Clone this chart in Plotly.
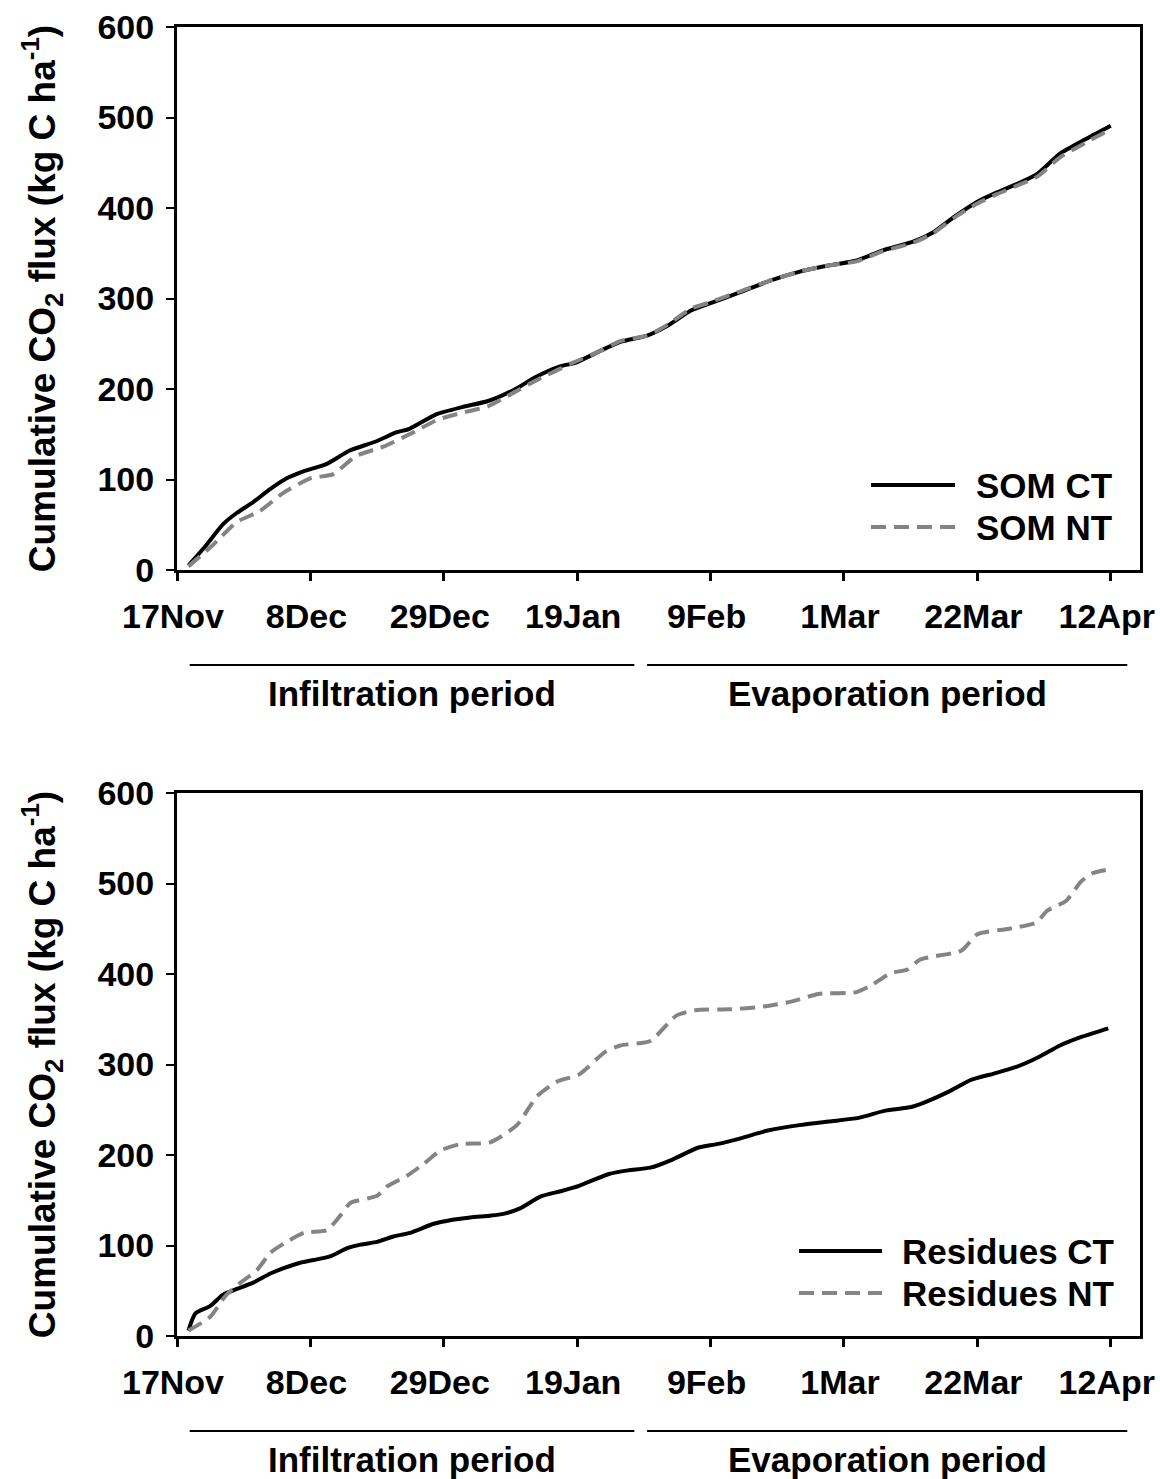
import plotly.graph_objects as go

W, H = 1160, 1479
FONT = "Liberation Sans, Arial, sans-serif"

# ---- axes -------------------------------------------------------------
# x values are days after 17 November
tick_days = [0, 21, 42, 63, 84, 105, 126, 147]
tick_labels = ["17Nov", "8Dec", "29Dec", "19Jan", "9Feb", "1Mar", "22Mar", "12Apr"]
y_ticks = [0, 100, 200, 300, 400, 500, 600]

# ---- SOM-derived cumulative flux (kg C/ha) -----------------------------
som_ct_day = [1.8, 4.2, 7.3, 9.4, 12, 14.6, 17.2, 19.9, 23.5, 27.2, 31.3, 34.5, 36.6,
              40.8, 44.9, 49.1, 53.3, 56.4, 60.3, 62.7, 66.3, 69.8, 74, 77, 81, 84,
              88.7, 93.5, 98.2, 103, 107, 111, 116, 119, 122.5, 126, 129, 133, 135.5,
              139, 143, 147]
som_ct = [5, 24, 51, 63, 75, 89, 101, 109, 117, 132, 142, 152, 156,
          172, 180, 187, 200, 213, 225, 229, 241, 252, 259, 269, 287, 295,
          307, 320, 330, 337, 342, 353, 363, 373, 391, 407, 417, 429, 438,
          460, 476, 491]

som_nt_day = [1.8, 5.7, 9.4, 13, 16.7, 20.9, 24.6, 28.2, 32.4, 36.6, 41, 45, 49, 53,
              56.4, 62, 66.3, 69.8, 74, 77, 81, 84, 88.7, 93.5, 98.2, 103, 107, 111,
              116, 119, 122.5, 126, 129, 133, 135.5, 139, 143, 147]
som_nt = [4, 28, 53, 65, 85, 101, 106, 126, 136, 150, 166, 174, 181, 196,
          209, 228, 241, 253, 259, 270, 289, 296, 308, 320, 330, 337, 341, 352,
          362, 372, 390, 405, 415, 427, 435, 456, 472, 487]

# ---- residue-derived cumulative flux (kg C/ha) -------------------------
res_ct_day = [1.8, 2.9, 5.2, 7.3, 9.4, 12, 14.7, 16.8, 19.4, 21.5, 24.1, 26.8, 28.9,
              31.5, 34.1, 36.7, 40.4, 43, 46.2, 49.3, 51.4, 54, 57.2, 60.4, 63.3, 68,
              71, 74.5, 78, 82, 85, 89, 93, 98, 102.6, 107.3, 111.5, 115.6, 118,
              121.5, 125, 128.6, 132, 135.6, 139, 142.6, 146.6]
res_ct = [6, 25, 33, 46, 52, 59, 69, 75, 81, 84, 88, 97, 101,
          104, 110, 114, 124, 128, 131, 133, 135, 141, 154, 160, 166, 179,
          183, 186, 195, 208, 212, 219, 227, 233, 237, 241, 249, 253, 259,
          270, 283, 290, 297, 308, 321, 331, 340]

res_nt_day = [1.8, 5.2, 7.6, 10, 12.6, 14.7, 16.8, 20, 23.6, 25.7, 27.3, 31.5, 33,
              36.2, 38.8, 41.5, 44.6, 49.3, 53.5, 56.7, 59.8, 63.3, 67.4, 69.8, 74.5,
              78.6, 81.6, 87, 92.3, 97, 101, 107, 109.4, 112.4, 115, 117, 123.5, 126,
              131, 135.3, 137, 140, 142.3, 144, 147]
res_nt = [6, 21, 44, 59, 73, 92, 102, 114, 117, 133, 147, 155, 165,
          177, 190, 205, 212, 214, 233, 265, 281, 289, 314, 321, 326,
          354, 360, 361, 364, 370, 378, 380, 388, 401, 405, 416, 426, 444,
          450, 457, 470, 481, 502, 511, 516]

# ---- study periods (days) ---------------------------------------------
period_names = ["Infiltration period", "Evaporation period"]
period_start = [2.0, 74.0]
period_end = [72.0, 149.6]

panels = [
    dict(names=["SOM CT", "SOM NT"],
         series=[(som_ct_day, som_ct), (som_nt_day, som_nt)]),
    dict(names=["Residues CT", "Residues NT"],
         series=[(res_ct_day, res_ct), (res_nt_day, res_nt)]),
]
line_styles = [dict(color="black", width=4, dash="solid"),
               dict(color="#848484", width=4, dash="15px,8px")]


def fx(p):
    return p / W


def fy(p):
    return 1 - p / H


# pixel frame of each panel: (top, bottom)
frames = [(27, 570), (793, 1336)]
left_px, right_px = 177, 1140
legend_px = [dict(line=(871, 955), text=974), dict(line=(799, 882), text=900)]

fig = go.Figure()


def bold(size):
    return dict(family=FONT, size=size, color="black", weight="bold")


axis_common = dict(showline=True, linecolor="black", linewidth=3, mirror=True,
                   ticks="outside", tickcolor="black", showgrid=False, zeroline=False,
                   automargin=False, ticklabeloverflow="allow", tickfont=bold(34))
shapes, annotations = [], []

for i, panel in enumerate(panels):
    xa = "x" if i == 0 else "x2"
    ya = "y" if i == 0 else "y2"
    for (d, v), name, st in zip(panel["series"], panel["names"], line_styles):
        fig.add_trace(go.Scatter(x=d, y=v, name=name, mode="lines", xaxis=xa, yaxis=ya,
                                 line=dict(color=st["color"], width=st["width"],
                                           dash=st["dash"], shape="spline", smoothing=0.6),
                                 showlegend=False))
    top, bot = frames[i]
    xkey = "xaxis" if i == 0 else "xaxis2"
    ykey = "yaxis" if i == 0 else "yaxis2"
    fig.layout[xkey] = dict(axis_common, domain=[fx(left_px), fx(right_px)],
                            range=[0, 151.6], tickvals=tick_days, ticktext=tick_labels,
                            ticklen=8, tickwidth=3, ticklabelstandoff=6,
                            ticklabelshift=-4, anchor=ya)
    fig.layout[ykey] = dict(axis_common, domain=[fy(bot), fy(top)], range=[0, 600],
                            tickvals=y_ticks, ticklen=8, tickwidth=2,
                            ticklabelstandoff=5, anchor=xa,
                            title=dict(text="Cumulative CO<sub>2</sub> flux (kg C ha<sup>-1</sup>)",
                                       font=bold(37), standoff=31))

    # period markers under the date axis
    for name, s, e in zip(period_names, period_start, period_end):
        shapes.append(dict(type="line", xref=xa, yref="paper", x0=s, x1=e,
                           y0=fy(bot + 95), y1=fy(bot + 95),
                           line=dict(color="black", width=2)))
        annotations.append(dict(xref=xa, yref="paper", x=(s + e) / 2, y=fy(bot + 123),
                                text=name, showarrow=False, font=bold(35),
                                xanchor="center", yanchor="middle"))

    # legend entries
    lg = legend_px[i]
    for k, (name, st) in enumerate(zip(panel["names"], line_styles)):
        row = bot - 85 + 42 * k
        shapes.append(dict(type="line", xref="paper", yref="paper",
                           x0=fx(lg["line"][0]), x1=fx(lg["line"][1]),
                           y0=fy(row), y1=fy(row),
                           line=dict(color=st["color"], width=st["width"], dash=st["dash"])))
        annotations.append(dict(xref="paper", yref="paper", x=fx(lg["text"]), y=fy(row),
                                text=name, showarrow=False, font=bold(35),
                                xanchor="left", yanchor="middle"))

fig.update_layout(template="none", width=W, height=H, margin=dict(l=0, r=0, t=0, b=0),
                  paper_bgcolor="white", plot_bgcolor="white",
                  shapes=shapes, annotations=annotations, showlegend=False)

fig.write_html("out.html")
